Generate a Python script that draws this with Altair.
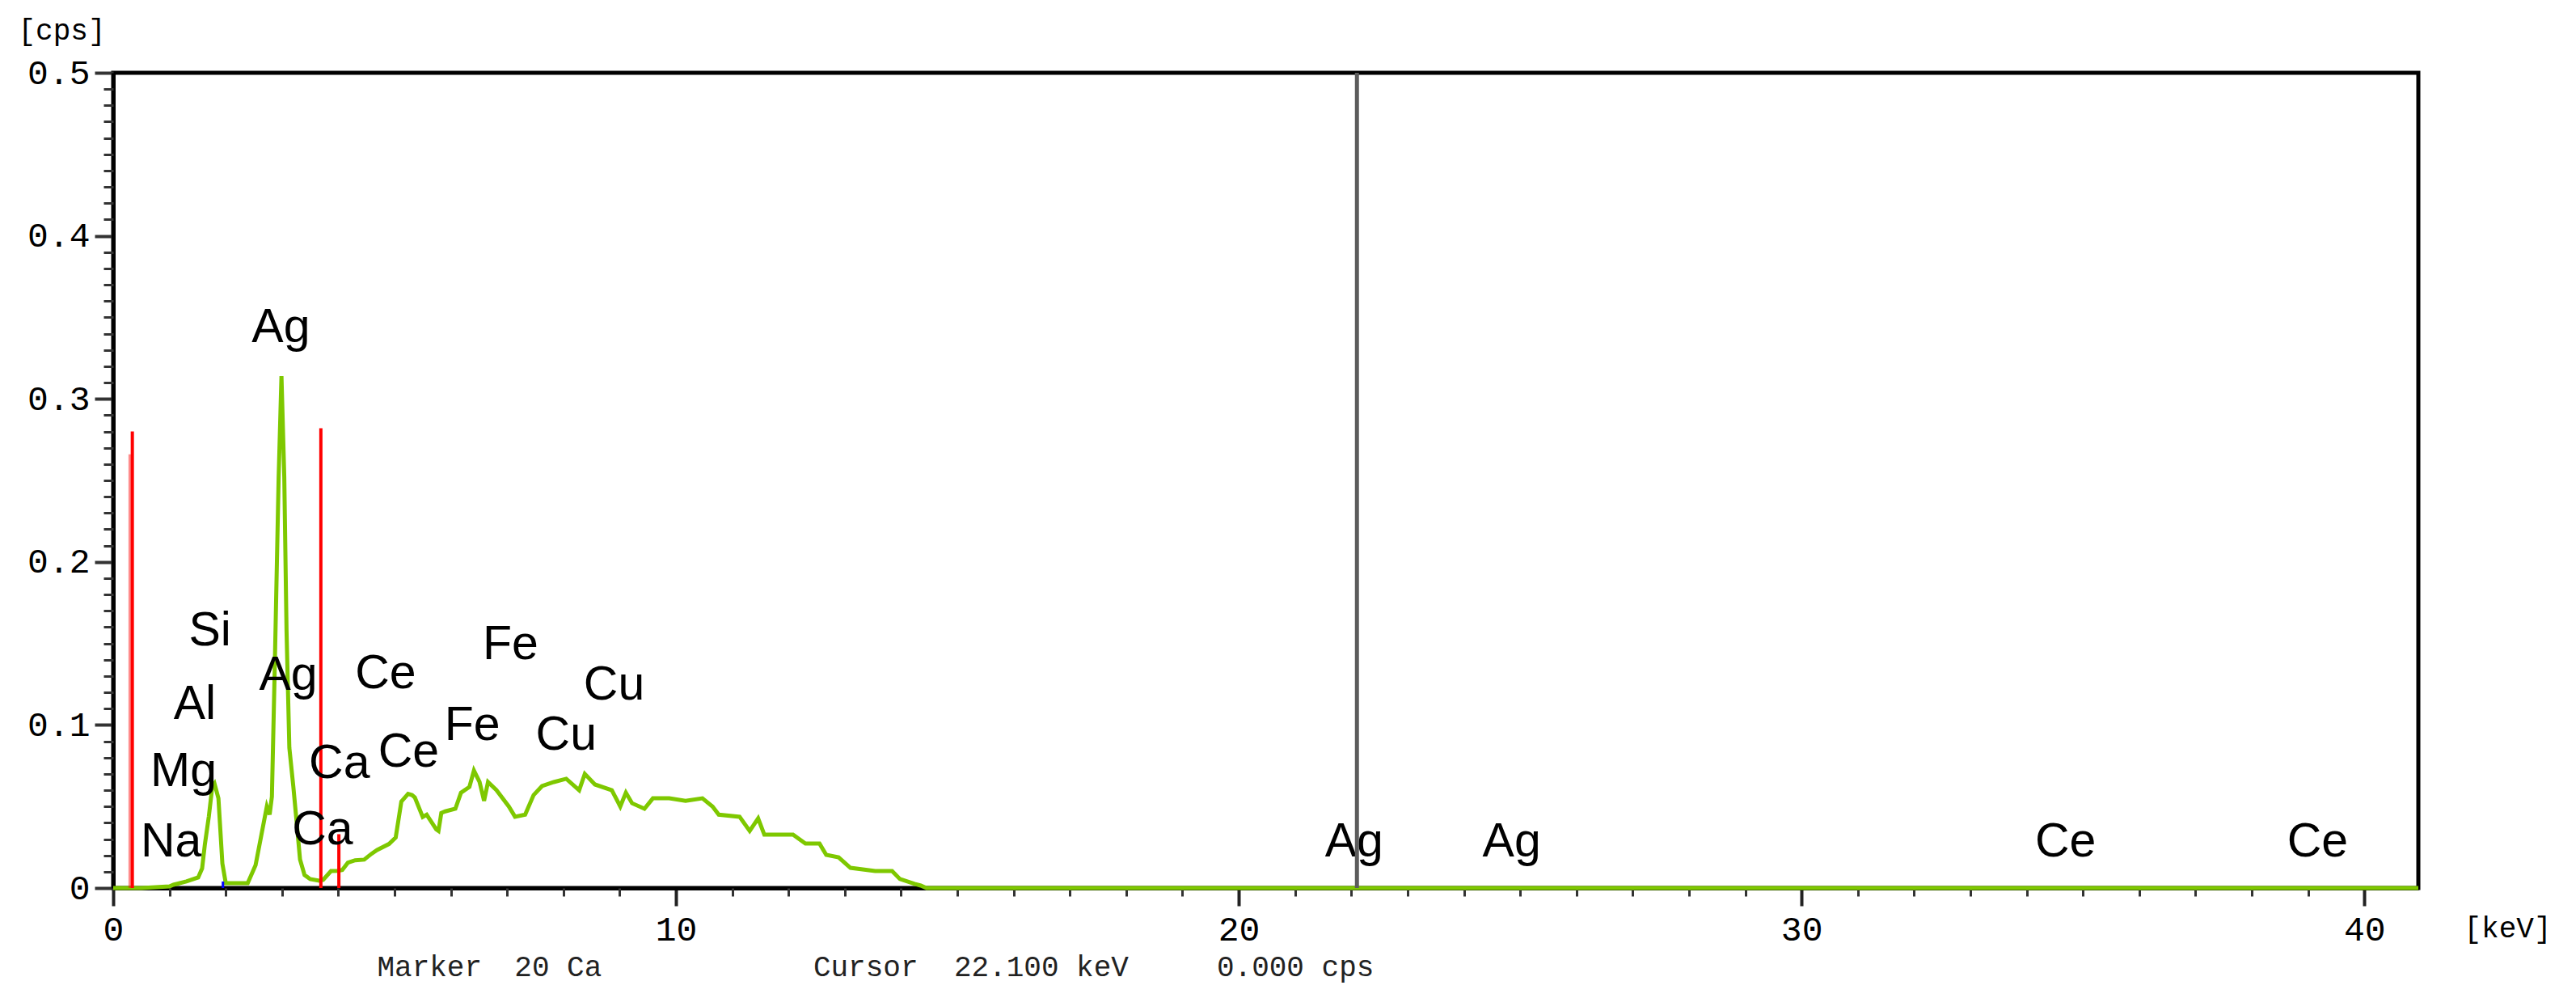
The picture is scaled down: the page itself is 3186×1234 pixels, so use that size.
import altair as alt
import pandas as pd

# ---------------- data ----------------
energy = [0.0, 0.5, 1.0, 1.07, 1.3, 1.51, 1.58, 1.63, 1.70, 1.76, 1.80, 1.87, 1.94, 2.0,
          2.39, 2.53, 2.63, 2.73, 2.78, 2.82, 2.87, 2.94, 2.99, 3.04, 3.08, 3.13, 3.2,
          3.25, 3.32, 3.40, 3.5, 3.66, 3.73, 3.87, 3.99, 4.07, 4.17, 4.3, 4.46, 4.59,
          4.69, 4.9, 5.02, 5.12, 5.24, 5.31, 5.36, 5.5, 5.57, 5.74, 5.78, 5.83, 5.9,
          6.08, 6.18, 6.33, 6.41, 6.51, 6.59, 6.66, 6.81, 7.03, 7.14, 7.32, 7.47, 7.62,
          7.83, 8.05, 8.28, 8.38, 8.56, 8.86, 9.01, 9.11, 9.22, 9.44, 9.59, 9.88, 10.17,
          10.47, 10.65, 10.76, 11.13, 11.31, 11.46, 11.57, 12.08, 12.3, 12.55, 12.67,
          12.89, 13.1, 13.54, 13.84, 13.98, 14.24, 14.35, 14.45, 40.96]
counts = [0.0, 0.0, 0.001, 0.002, 0.004, 0.0065, 0.012, 0.027, 0.044, 0.062, 0.064, 0.055,
          0.015, 0.003, 0.003, 0.014, 0.032, 0.050, 0.045, 0.056, 0.134, 0.252, 0.314,
          0.252, 0.158, 0.086, 0.0625, 0.044, 0.0175, 0.008, 0.0055, 0.0045, 0.005,
          0.0104, 0.0105, 0.011, 0.0155, 0.017, 0.0174, 0.021, 0.0233, 0.027, 0.031,
          0.053, 0.0577, 0.057, 0.0555, 0.0436, 0.045, 0.036, 0.035, 0.046, 0.047,
          0.0486, 0.0585, 0.062, 0.072, 0.065, 0.0535, 0.065, 0.060, 0.050, 0.0437,
          0.045, 0.057, 0.0625, 0.065, 0.067, 0.060, 0.070, 0.0635, 0.060, 0.050,
          0.0585, 0.052, 0.0486, 0.055, 0.055, 0.0535, 0.055, 0.050, 0.045, 0.0437,
          0.035, 0.0427, 0.0327, 0.0327, 0.0273, 0.0273, 0.0203, 0.0188, 0.0124,
          0.0104, 0.0104, 0.0055, 0.0025, 0.0015, 0.0, 0.0]

marker_energy = [0.30, 0.34, 3.69, 4.01]
marker_height = [0.266, 0.28, 0.282, 0.033]
marker_opacity = [0.45, 1.0, 1.0, 1.0]

cursor_energy = [22.1]
cursor_top = [0.5]

blue_energy = [1.95]
blue_height = [0.004]

label_text = ["Ag", "Si", "Ag", "Ce", "Fe", "Cu", "Al", "Fe", "Cu", "Mg", "Ca", "Ce",
              "Na", "Ca", "Ag", "Ag", "Ce", "Ce"]
label_energy = [2.98, 1.72, 3.11, 4.84, 7.06, 8.90, 1.45, 6.38, 8.05, 1.25, 4.02, 5.25,
                1.03, 3.72, 22.05, 24.85, 34.69, 39.17]
label_cps = [0.345, 0.159, 0.132, 0.133, 0.151, 0.126, 0.114, 0.101, 0.095, 0.073, 0.078,
             0.085, 0.030, 0.037, 0.030, 0.030, 0.030, 0.030]

footer_text = ["Marker", "20 Ca", "Cursor", "22.100 keV", "0.000 cps"]
footer_energy = [4.69, 7.13, 12.44, 14.94, 19.61]

x_major = [0, 10, 20, 30, 40]
x_minor = [1, 2, 3, 4, 5, 6, 7, 8, 9, 11, 12, 13, 14, 15, 16, 17, 18, 19,
           21, 22, 23, 24, 25, 26, 27, 28, 29, 31, 32, 33, 34, 35, 36, 37, 38, 39]
y_major = [0, 0.1, 0.2, 0.3, 0.4, 0.5]
y_minor = [0.01, 0.02, 0.03, 0.04, 0.05, 0.06, 0.07, 0.08, 0.09,
           0.11, 0.12, 0.13, 0.14, 0.15, 0.16, 0.17, 0.18, 0.19,
           0.21, 0.22, 0.23, 0.24, 0.25, 0.26, 0.27, 0.28, 0.29,
           0.31, 0.32, 0.33, 0.34, 0.35, 0.36, 0.37, 0.38, 0.39,
           0.41, 0.42, 0.43, 0.44, 0.45, 0.46, 0.47, 0.48, 0.49]

# ---------------- tables ----------------
spec_df = pd.DataFrame({"E": energy, "cps": counts})
mark_df = pd.DataFrame({"E": marker_energy, "y0": [0.0] * len(marker_energy),
                        "h": marker_height, "op": marker_opacity})
cur_df = pd.DataFrame({"E": cursor_energy, "y0": [0.0], "top": cursor_top})
blue_df = pd.DataFrame({"E": blue_energy, "y0": [0.0], "h": blue_height})
lab_df = pd.DataFrame({"t": label_text, "E": label_energy, "cps": label_cps})
foot_df = pd.DataFrame({"t": footer_text, "E": footer_energy})

W, H = 2851, 1008
xscale = alt.Scale(domain=[0, 40.96], nice=False, zero=False)
yscale = alt.Scale(domain=[0, 0.5], nice=False, zero=False)
MONO = "Liberation Mono"

x_major_axis = alt.Axis(values=x_major, format="d", orient="bottom", grid=False,
                        title="[keV]", titleX=2907, titleY=49, titleAlign="left",
                        titleBaseline="middle", titleFont=MONO, titleFontSize=36,
                        titleFontWeight="normal", titleColor="black",
                        labelFont=MONO, labelFontSize=43, labelColor="black",
                        labelPadding=8, labelFlush=False, labelOverlap=False,
                        tickSize=22, tickWidth=4, tickColor="#222",
                        domainColor="black", domainWidth=5)
x_minor_axis = alt.Axis(values=x_minor, orient="bottom", grid=False, labels=False,
                        domain=False, tickSize=10, tickWidth=3, tickColor="#333",
                        title=None)
y_major_axis = alt.Axis(values=y_major, orient="left", grid=False,
                        labelExpr="datum.value == 0 ? '0' : format(datum.value, '.1f')",
                        title="[cps]", titleAngle=0, titleX=-118, titleY=-53,
                        titleAlign="left", titleBaseline="middle", titleFont=MONO,
                        titleFontSize=36, titleFontWeight="normal", titleColor="black",
                        labelFont=MONO, labelFontSize=43, labelColor="black",
                        labelPadding=6, labelFlush=False, labelOverlap=False,
                        tickSize=23, tickWidth=4, tickColor="#333",
                        domainColor="black", domainWidth=5)
y_minor_axis = alt.Axis(values=y_minor, orient="left", grid=False, labels=False,
                        domain=False, tickSize=12, tickWidth=3, tickColor="#333",
                        title=None)

spectrum = alt.Chart(spec_df).mark_line(color="#7ec800", strokeWidth=5).encode(
    x=alt.X("E:Q", scale=xscale, axis=x_major_axis),
    y=alt.Y("cps:Q", scale=yscale, axis=y_major_axis),
)

markers = alt.Chart(mark_df).mark_rule(color="#ff0000", strokeWidth=4).encode(
    x=alt.X("E:Q", scale=xscale, axis=x_minor_axis),
    y=alt.Y("y0:Q", scale=yscale, axis=y_minor_axis),
    y2="h:Q",
    opacity=alt.Opacity("op:Q", scale=None, legend=None),
)

blue = alt.Chart(blue_df).mark_rule(color="#0000ff", strokeWidth=3).encode(
    x=alt.X("E:Q", scale=xscale, axis=None),
    y=alt.Y("y0:Q", scale=yscale, axis=None),
    y2="h:Q",
)

labels = alt.Chart(lab_df).mark_text(font="Liberation Sans", fontSize=59, color="black",
                                     align="center", baseline="middle", dy=3).encode(
    x=alt.X("E:Q", scale=xscale, axis=None),
    y=alt.Y("cps:Q", scale=yscale, axis=None),
    text="t:N",
)

cursor = alt.Chart(cur_df).mark_rule(color="#5c5c5c", strokeWidth=5).encode(
    x=alt.X("E:Q", scale=xscale, axis=None),
    y=alt.Y("y0:Q", scale=yscale, axis=None),
    y2="top:Q",
)

footer = alt.Chart(foot_df).mark_text(font=MONO, fontSize=36, color="#222",
                                      align="left", baseline="middle").encode(
    x=alt.X("E:Q", scale=xscale, axis=None),
    y=alt.value(H + 98),
    text="t:N",
)

chart = alt.layer(spectrum, markers, blue, labels, cursor, footer).resolve_scale(
    x="shared", y="shared"
).resolve_axis(
    x="independent", y="independent"
).properties(
    width=W, height=H,
    padding={"left": 132, "top": 82, "right": 180, "bottom": 120},
    autosize=alt.AutoSizeParams(type="none"),
    background="white",
).configure_view(
    stroke="black", strokeWidth=5
)

chart.save("out.html", embed_options={"renderer": "svg", "actions": False})
